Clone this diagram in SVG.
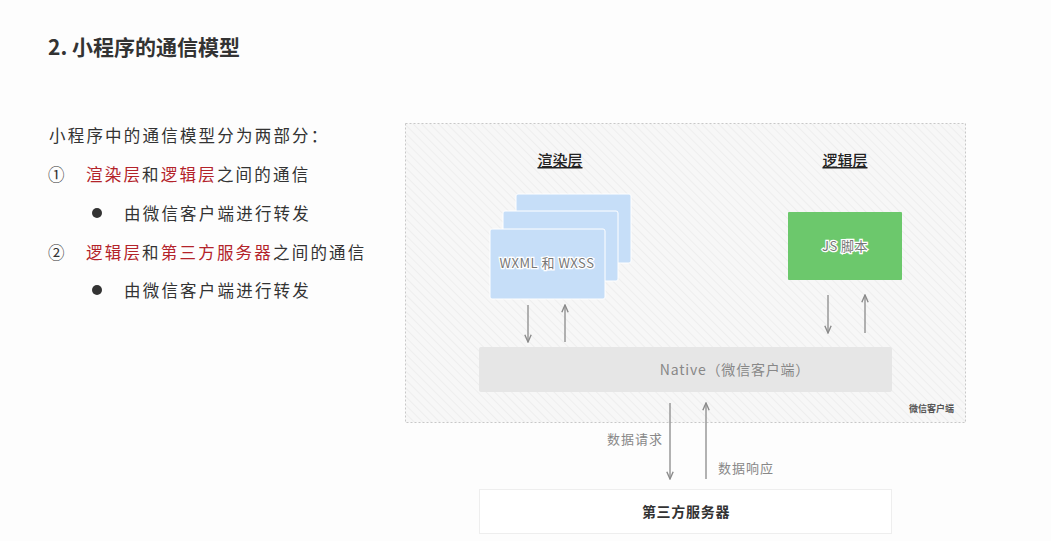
<svg xmlns="http://www.w3.org/2000/svg" width="1051" height="541" viewBox="0 0 1051 541">
<defs>
<style>
.cjk{font-family:"Noto Sans CJK SC","Noto Sans",sans-serif;}
.title{font-size:21px;font-weight:bold;fill:#333;}
.body{font-size:16.5px;fill:#333;letter-spacing:2.2px;}
.red{fill:#b3232a;}
.layer{font-size:15px;fill:#222;text-anchor:middle;text-decoration:underline;font-weight:500;}
.boxlbl{font-size:13px;fill:#777;text-anchor:middle;stroke:#fff;stroke-width:2.5px;paint-order:stroke;letter-spacing:0.5px;}
.gray{font-size:13px;fill:#888;letter-spacing:1px;}
.conn line{stroke:#8a8a8a;stroke-width:1.3;}
</style>
<pattern id="hatch" width="6" height="6" patternUnits="userSpaceOnUse" patternTransform="rotate(-45)">
<rect width="6" height="6" fill="#f7f7f7"/>
<line x1="0" y1="0" x2="0" y2="6" stroke="#eeeeee" stroke-width="2"/>
</pattern>
<marker id="ah" viewBox="0 0 10 10" refX="9" refY="5" markerWidth="7" markerHeight="7" orient="auto">
<path d="M1,1.5 L9,5 L1,8.5" fill="none" stroke="#8a8a8a" stroke-width="1.5"/>
</marker>
</defs>
<rect width="1051" height="541" fill="#fdfdfd"/>
<g id="text-left" class="cjk">
<text class="title" x="48" y="55">2. 小程序的通信模型</text>
<text class="body" x="49" y="142">小程序中的通信模型分为两部分：</text>
<text class="body" x="48" y="181">①</text>
<text class="body" x="86" y="181"><tspan class="red">渲染层</tspan>和<tspan class="red">逻辑层</tspan>之间的通信</text>
<circle cx="97" cy="213" r="5" fill="#333"/>
<text class="body" x="124" y="220">由微信客户端进行转发</text>
<text class="body" x="48" y="259">②</text>
<text class="body" x="86" y="259"><tspan class="red">逻辑层</tspan>和<tspan class="red">第三方服务器</tspan>之间的通信</text>
<circle cx="97" cy="290" r="5" fill="#333"/>
<text class="body" x="124" y="297">由微信客户端进行转发</text>
</g>
<g id="client">
<rect x="405.5" y="123.5" width="560" height="299" fill="url(#hatch)" stroke="#c8c8c8" stroke-dasharray="2,2"/>
<text class="cjk" x="954" y="412" font-size="9" font-weight="bold" fill="#555" text-anchor="end">微信客户端</text>
</g>
<g id="render-layer" class="cjk">
<text class="layer" x="560" y="166">渲染层</text>
<rect x="516" y="194" width="115" height="69" rx="2" fill="#c6def8" stroke="#fff"/>
<rect x="503" y="211" width="115" height="70" rx="2" fill="#c6def8" stroke="#fff"/>
<rect x="490" y="229" width="115" height="70" rx="2" fill="#c6def8" stroke="#fff"/>
<text class="boxlbl" x="547" y="268">WXML 和 WXSS</text>
</g>
<g id="logic-layer" class="cjk">
<text class="layer" x="845" y="166">逻辑层</text>
<rect x="788" y="212" width="114" height="68" rx="1" fill="#6cc86c"/>
<text class="boxlbl" x="845" y="251">JS 脚本</text>
</g>
<g id="native" class="cjk">
<rect x="479" y="347" width="413" height="45" rx="2" fill="#e6e6e6"/>
<text x="735" y="375" font-size="14" fill="#888" text-anchor="middle" letter-spacing="0.8">Native（微信客户端）</text>
</g>
<g id="server" class="cjk">
<rect x="479.5" y="489.5" width="412" height="44" fill="#fff" stroke="#eeeeee"/>
<text x="686" y="517" font-size="14" font-weight="bold" fill="#333" text-anchor="middle" letter-spacing="0.7">第三方服务器</text>
</g>
<g id="connectors" class="conn">
<line x1="528" y1="305" x2="528" y2="342" marker-end="url(#ah)"/>
<line x1="565" y1="342" x2="565" y2="305" marker-end="url(#ah)"/>
<line x1="828" y1="295" x2="828" y2="333" marker-end="url(#ah)"/>
<line x1="865" y1="333" x2="865" y2="295" marker-end="url(#ah)"/>
<line x1="670" y1="403" x2="670" y2="479" marker-end="url(#ah)"/>
<line x1="706" y1="479" x2="706" y2="403" marker-end="url(#ah)"/>
</g>
<g id="labels" class="cjk">
<text class="gray" x="607" y="444">数据请求</text>
<text class="gray" x="718" y="473">数据响应</text>
</g>
</svg>
